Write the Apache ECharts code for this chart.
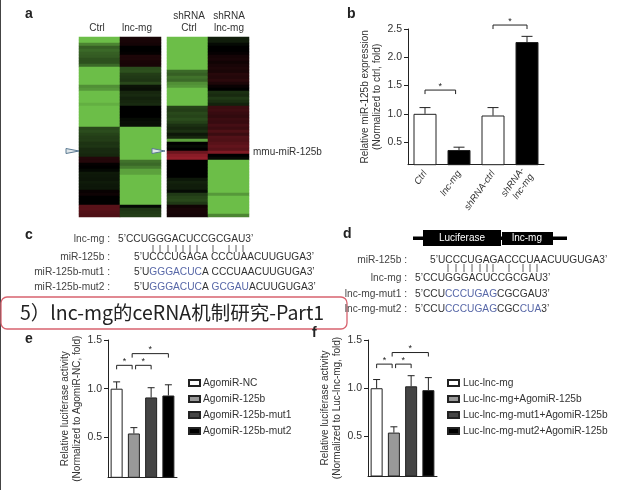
<!DOCTYPE html>
<html><head><meta charset="utf-8">
<style>html,body{margin:0;padding:0;background:#fff}#c{width:637px;height:490px;filter:blur(0.45px)}</style>
<script src="https://cdn.jsdelivr.net/npm/echarts@6/dist/echarts.min.js"></script>
</head><body><div id="c"></div>
<script>
const FONT='"Liberation Sans", Arial, sans-serif', INK='#333';
// heatmap columns: -1 green, 0 black, +1 red; top row first
const heatCtrl=[-1,-1,-.7,-.5,-.55,-.5,-.48,-.42,-.42,-.55,-1,-1,-1,-1,-1,-1,-.75,-.8,-1,-1,-1,-1,-.92,-1,-1,-1,-1,-1,-1,-1,-.38,-.4,-.35,-.32,-.32,-.27,-.28,-.22,-.22,-.2,.18,.18,.02,0,-.04,-.13,-.12,-.11,-.14,-.12,-.12,.04,.07,0,0,0,.45,.45,.42,.4];
const heatLnc=[.12,.12,.1,0,0,.02,.15,.15,.13,.12,-.4,-.42,-.32,-.3,-.28,-.38,-.1,-.08,-.2,-.22,-.18,-.2,-.22,0,0,0,0,-.06,-.08,-.08,-1,-1,-1,-1,-1,-1,-1,-1,-1,-1,-1,-.6,-.55,-.65,-.85,-.85,-1,-1,-1,-1,-1,-1,-1,-1,-1,-1,-.05,-.28,-.3,-.32];
const heatShCtrl=[-1,-1,-1,-1,-1,-1,-1,-1,-1,-1,-1,-.55,-.5,-.6,-.55,-.75,-.8,-1,-1,-1,-1,-1,-1,-.35,-.32,-.38,-.35,-.4,-.34,-.25,-.2,-.25,-.12,-.2,-.85,0,-.05,0,.55,.7,.75,0,0,0,0,0,0,-.12,-.18,-.15,-.15,-.05,-.3,-.35,-.38,-.3,.08,.12,.12,.1];
const heatShLnc=[-.15,-.15,-.05,0,0,.03,.1,.12,.08,.12,.15,.13,.2,.18,.22,.15,.05,0,-.25,-.22,-.3,-.25,-.18,.3,.32,.28,.25,.3,.28,.35,.3,.4,.3,.42,.4,.45,.5,.45,.65,0,-.05,-1,-1,-1,-1,-1,-1,-1,-1,-1,-1,-1,-.8,-1,-1,-1,-1,-1,-1,-.7];
const heatRows=heatCtrl.map((_,i)=>'r'+i);
// panel b
const catsB=['Ctrl','lnc-mg','shRNA-ctrl','shRNA-\nlnc-mg'];
const valsB=[1.0,.36,.97,2.27];
const topsB=[1.11,.41,1.11,2.37];
const colorsB=['#fff','#000','#fff','#000'];
const bracketsB=[[0,0,1,-.1,1.42],[2,0,3,0,2.57]];
// panel e
const namesE=['AgomiR-NC','AgomiR-125b','AgomiR-125b-mut1','AgomiR-125b-mut2'];
const valsE=[1.0,.54,.91,.93];
const topsE=[1.07,.60,1.01,1.04];
const bracketsE=[[0,0,1,-.1,1.24],[1,.1,2,0,1.24],[1,-.1,3,0,1.36]];
// panel f
const namesF=['Luc-lnc-mg','Luc-lnc-mg+AgomiR-125b','Luc-lnc-mg-mut1+AgomiR-125b','Luc-lnc-mg-mut2+AgomiR-125b'];
const valsF=[1.0,.54,1.02,.98];
const topsF=[1.09,.60,1.13,1.11];
const bracketsF=[[0,0,1,-.1,1.25],[1,.1,2,0,1.25],[1,-.1,3,0,1.37]];
const fillsEF=['#fff','#999','#444','#000'];
const ticksY25=[.5,1,1.5,2,2.5], ticksY15=[.5,1,1.5];
// sequences: [label, [text, isBlue]...]
const seqC=[['lnc-mg :',[['5’CCUGGGACUCCGCGAU3’',0]]],['miR-125b :',[['5’UCCCUGAGA CCCUAACUUGUGA3’',0]]],['miR-125b-mut1 :',[['5’U',0],['GGGACUC',1],['A CCCUAACUUGUGA3’',0]]],['miR-125b-mut2 :',[['5’U',0],['GGGACUC',1],['A ',0],['GCGAU',1],['ACUUGUGA3’',0]]]];
const seqD=[['miR-125b :',[['5’UCCCUGAGACCCUAACUUGUGA3’',0]]],['lnc-mg :',[['5’CCUGGGACUCCGCGAU3’',0]]],['lnc-mg-mut1 :',[['5’CCU',0],['CCCUGAG',1],['CGCGAU3’',0]]],['lnc-mg-mut2 :',[['5’CCU',0],['CCCUGAG',1],['CGC',0],['CUA',1],['3’',0]]]];
const pairsC=[153,160,168,176,183,190,197,213,229,236,243];
const pairsD=[448,456,464,472,480,487,493,509,523,530,537];

const grids=[],xAxes=[],yAxes=[],series=[];
function heatPanel(left,width,a,b){
  const i=grids.length;
  grids.push({left,width,top:37,height:180});
  xAxes.push({gridIndex:i,type:'category',data:['a','b'],show:false});
  yAxes.push({gridIndex:i,type:'category',data:heatRows,inverse:true,show:false});
  const d=[];
  a.forEach((v,r)=>d.push([0,r,v]));
  b.forEach((v,r)=>d.push([1,r,v]));
  series.push({type:'heatmap',xAxisIndex:i,yAxisIndex:i,data:d,progressive:0,animation:false});
}
heatPanel(79,82,heatCtrl,heatLnc);
heatPanel(167,82,heatShCtrl,heatShLnc);
const heatIdx=[0,1];

function barGrid(g,cats,max,ticks,name,nameGap,min,showLabels){
  const i=grids.length;
  grids.push(g);
  xAxes.push({gridIndex:i,type:'category',data:cats,
    axisLine:{lineStyle:{color:'#222',width:1}},
    axisTick:{alignWithLabel:true,length:4,lineStyle:{color:'#222'}},
    axisLabel:showLabels?{rotate:55,fontStyle:'italic',fontSize:9.5,color:INK,fontFamily:FONT,margin:7,interval:0,lineHeight:11}:{show:false}});
  yAxes.push({gridIndex:i,type:'value',min,max,splitLine:{show:false},
    axisLine:{show:true,lineStyle:{color:'#222',width:1}},
    axisTick:{show:true,length:4,customValues:ticks,lineStyle:{color:'#222'}},
    axisLabel:{customValues:ticks,formatter:v=>v.toFixed(1),fontSize:10.5,color:INK,fontFamily:FONT,margin:6},
    name,nameLocation:'middle',nameGap,nameRotate:90,
    nameTextStyle:{fontSize:10,color:INK,fontFamily:FONT,lineHeight:12.5}});
  return i;
}
function errSeries(i,vals,tops,cap){
  series.push({type:'custom',xAxisIndex:i,yAxisIndex:i,silent:true,z:5,
    data:vals.map((v,j)=>[j,tops[j],v]),encode:{x:0,y:1},
    renderItem(p,api){
      const a=api.coord([api.value(0),api.value(2)]),b=api.coord([api.value(0),api.value(1)]);
      const st={stroke:'#222',lineWidth:1,fill:null};
      return {type:'group',children:[
        {type:'line',shape:{x1:a[0],y1:a[1],x2:b[0],y2:b[1]},style:st},
        {type:'line',shape:{x1:b[0]-cap/2,y1:b[1],x2:b[0]+cap/2,y2:b[1]},style:st}]};
    }});
}
function bracketSeries(i,brs){
  series.push({type:'custom',xAxisIndex:i,yAxisIndex:i,silent:true,z:6,
    data:brs,encode:{x:0,y:4},
    renderItem(p,api){
      const band=api.size([1,0])[0];
      const x1=api.coord([api.value(0),api.value(4)])[0]+api.value(1)*band;
      const a=api.coord([api.value(2),api.value(4)]);
      const x2=a[0]+api.value(3)*band,y=a[1];
      return {type:'group',children:[
        {type:'polyline',shape:{points:[[x1,y+4],[x1,y],[x2,y],[x2,y+4]]},style:{stroke:'#222',lineWidth:1,fill:null}},
        {type:'text',style:{x:(x1+x2)/2,y:y-4,text:'*',fontSize:9,fontFamily:FONT,fill:'#222',align:'center',verticalAlign:'middle'}}]};
    }});
}
// panel b
const iB=barGrid({left:408,width:136,top:29,height:135.7},catsB,2.5,ticksY25,'Relative miR-125b expression\n(Normalized to ctrl, fold)',21,.1,true);
series.push({type:'bar',xAxisIndex:iB,yAxisIndex:iB,barWidth:23,
  data:valsB.map((v,j)=>({value:v,itemStyle:{color:colorsB[j],borderColor:'#222',borderWidth:1}}))});
errSeries(iB,valsB,topsB,11);
bracketSeries(iB,bracketsB);
// panels e, f
function lucPanel(g,names,vals,tops,brs,axName,gap,min){
  const i=barGrid(g,names,1.5,ticksY15,axName,gap,min,false);
  names.forEach((n,j)=>series.push({type:'bar',name:n,stack:'s'+i,xAxisIndex:i,yAxisIndex:i,barWidth:12,
    itemStyle:{color:fillsEF[j],borderColor:'#222',borderWidth:1},
    data:vals.map((v,k)=>k===j?v:null)}));
  errSeries(i,vals,tops,7);
  bracketSeries(i,brs);
}
lucPanel({left:108,width:69,top:340,height:137.3},namesE,valsE,topsE,bracketsE,'Relative luciferase activity\n(Normalized to AgomiR-NC, fold)',18,.09);
lucPanel({left:368,width:69,top:340,height:136},namesF,valsF,topsF,bracketsF,'Relative luciferase activity\n(Normalized to Luc-lnc-mg, fold)',19,.09);

function legend(left,top,data,pad){
  return {left,top,orient:'vertical',data,icon:'rect',itemWidth:11,itemHeight:6,itemGap:6,padding:0,selectedMode:false,
    textStyle:{fontSize:10.2,color:INK,fontFamily:FONT,padding:[0,0,0,pad],lineHeight:10}};
}
// graphics
const gfx=[];
function T(x,y,text,o={}){gfx.push({type:'text',x,y,z:20,style:Object.assign({text,fontFamily:FONT,fontSize:10,fill:INK,align:'left',verticalAlign:'middle'},o)});}
function tick(x,y1,y2){gfx.push({type:'line',z:20,shape:{x1:x,y1,x2:x,y2},style:{stroke:'#333',lineWidth:.8}});}
function arrow(x,y){gfx.push({type:'polygon',z:20,shape:{points:[[x,y-2.5],[x+13,y],[x,y+2.5]]},style:{fill:'#dfe6ea',stroke:'#5b7a92',lineWidth:1}});}
function seqLine(xLab,xSeq,y,row){
  T(xLab,y,row[0],{align:'right',fontSize:10.2,fill:'#444'});
  const s=row[1].map(p=>'{'+(p[1]?'b':'n')+'|'+p[0]+'}').join('');
  T(xSeq,y,s,{rich:{n:{fontFamily:FONT,fontSize:10.2,fill:'#333'},b:{fontFamily:FONT,fontSize:10.2,fill:'#5868a8'}}});
}
gfx.push({type:'line',z:1,shape:{x1:.5,y1:0,x2:.5,y2:490},style:{stroke:'#444',lineWidth:1}});
gfx.push({type:'rect',z:10,shape:{x:1,y:297,width:346,height:32,r:6},style:{fill:'#fff',stroke:'#d8636f',lineWidth:1.3}});
T(20,313,'5）lnc-mg的ceRNA机制研究-Part1',{fontFamily:'"Noto Sans CJK SC"',fontSize:19.5,fill:'#222'});
const letter={fontWeight:'bold',fontSize:14,fill:'#222'};
T(25,14,'a',letter);T(347,14,'b',letter);T(25,235,'c',letter);T(343,234,'d',letter);T(25,339,'e',letter);T(312,333,'f',letter);
T(97,28,'Ctrl',{align:'center'});T(137,28,'lnc-mg',{align:'center'});
T(189,22,'shRNA\nCtrl',{align:'center',lineHeight:12});T(229,22,'shRNA\nlnc-mg',{align:'center',lineHeight:12});
T(253,152,'mmu-miR-125b');
arrow(66,151);arrow(152,151);
[239,257,272,287].forEach((y,i)=>seqLine(110,i?134:118,y,seqC[i]));
[260,278,294,309].forEach((y,i)=>seqLine(407,i?415:430,y,seqD[i]));
pairsC.forEach(x=>tick(x,245,252));
pairsD.forEach(x=>tick(x,264,272));
gfx.push({type:'rect',z:15,shape:{x:413,y:236.5,width:154,height:3.5},style:{fill:'#000'}});
gfx.push({type:'rect',z:16,shape:{x:423,y:230,width:78,height:16},style:{fill:'#000'}});
gfx.push({type:'rect',z:16,shape:{x:502,y:232,width:51,height:13},style:{fill:'#000'}});
T(462,238.5,'Luciferase',{align:'center',fill:'#fff'});
T(527,238,'lnc-mg',{align:'center',fill:'#fff'});

const chart=echarts.init(document.getElementById('c'),null,{renderer:'canvas'});
chart.setOption({animation:false,backgroundColor:'#fff',grid:grids,xAxis:xAxes,yAxis:yAxes,series,
  visualMap:{show:false,type:'continuous',min:-1,max:1,dimension:2,seriesIndex:heatIdx,
    inRange:{color:['#6cbe48','#000000','#c42838']}},
  legend:[legend(188,378,namesE,-2),legend(447,378,namesF,-1)],
  graphic:gfx});
</script></body></html>
